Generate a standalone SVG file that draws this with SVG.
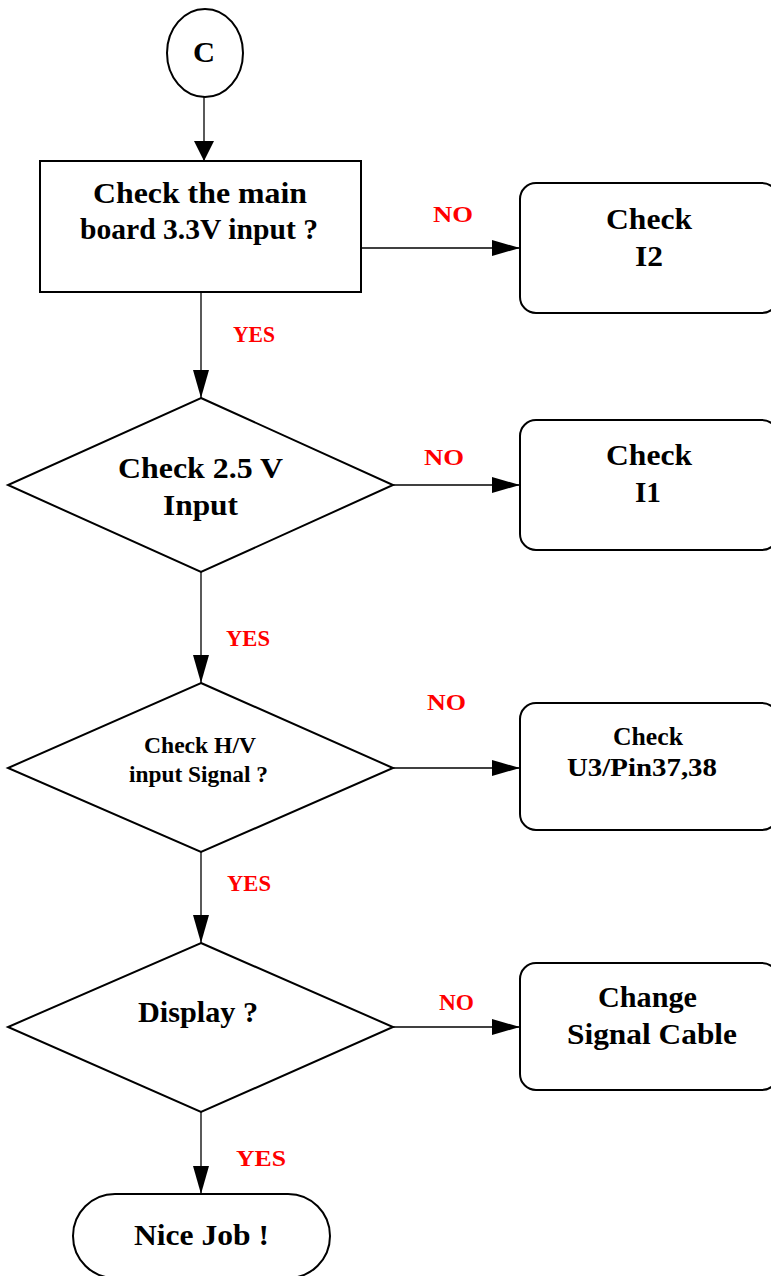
<svg xmlns="http://www.w3.org/2000/svg" width="771" height="1276" viewBox="0 0 771 1276">
<defs>
<style>
.shape{fill:#fff;stroke:#000;stroke-width:2}
.conn{fill:none;stroke:#000;stroke-width:1.3}
.t{font-family:"Liberation Serif","Times New Roman",serif;font-weight:bold;fill:#000}
.big{font-size:30px}
.mid{font-size:26px}
.lbl{font-family:"Liberation Serif","Times New Roman",serif;font-weight:bold;fill:#ff0000;font-size:24px}
</style>
<marker id="ah" markerUnits="userSpaceOnUse" markerWidth="30" markerHeight="16" refX="28" refY="8" orient="auto">
<path d="M0,0 L28,8 L0,16 Z" fill="#000"/>
</marker>
<marker id="ah2" markerUnits="userSpaceOnUse" markerWidth="22" markerHeight="20" refX="20" refY="10" orient="auto">
<path d="M0,0 L20,10 L0,20 Z" fill="#000"/>
</marker>
</defs>
<rect width="771" height="1276" fill="#fff"/>
<g id="connectors">
<line class="conn" x1="204" y1="97" x2="204" y2="161" marker-end="url(#ah2)"/>
<line class="conn" x1="361" y1="248" x2="520" y2="248" marker-end="url(#ah)"/>
<line class="conn" x1="201" y1="293" x2="201" y2="398" marker-end="url(#ah)"/>
<line class="conn" x1="392" y1="485" x2="520" y2="485" marker-end="url(#ah)"/>
<line class="conn" x1="201" y1="572" x2="201" y2="683" marker-end="url(#ah)"/>
<line class="conn" x1="393" y1="768" x2="520" y2="768" marker-end="url(#ah)"/>
<line class="conn" x1="201" y1="852" x2="201" y2="943" marker-end="url(#ah)"/>
<line class="conn" x1="393" y1="1027" x2="520" y2="1027" marker-end="url(#ah)"/>
<line class="conn" x1="201" y1="1112" x2="201" y2="1194" marker-end="url(#ah)"/>
<text class="lbl" x="433" y="222" textLength="40" lengthAdjust="spacingAndGlyphs">NO</text>
<text class="lbl" x="233" y="342" textLength="42" lengthAdjust="spacingAndGlyphs">YES</text>
<text class="lbl" x="424" y="465" textLength="40" lengthAdjust="spacingAndGlyphs">NO</text>
<text class="lbl" x="226" y="646" textLength="44" lengthAdjust="spacingAndGlyphs">YES</text>
<text class="lbl" x="427" y="710" textLength="39" lengthAdjust="spacingAndGlyphs">NO</text>
<text class="lbl" x="227" y="891" textLength="44" lengthAdjust="spacingAndGlyphs">YES</text>
<text class="lbl" x="439" y="1010" textLength="35" lengthAdjust="spacingAndGlyphs">NO</text>
<text class="lbl" x="236" y="1166" textLength="50" lengthAdjust="spacingAndGlyphs">YES</text>
</g>
<g id="startC">
<ellipse class="shape" cx="205" cy="53" rx="38" ry="44"/>
<text class="t big" x="193" y="62" textLength="22" lengthAdjust="spacingAndGlyphs">C</text>
</g>
<g id="check33">
<rect class="shape" x="40" y="161" width="321" height="131"/>
<text class="t big" x="93" y="203" textLength="214" lengthAdjust="spacingAndGlyphs">Check the main</text>
<text class="t big" x="80" y="239" textLength="238" lengthAdjust="spacingAndGlyphs">board 3.3V input ?</text>
</g>
<g id="checkI2">
<rect class="shape" x="520" y="183" width="258" height="130" rx="16"/>
<text class="t big" x="606" y="229" textLength="86" lengthAdjust="spacingAndGlyphs">Check</text>
<text class="t big" x="635" y="266" textLength="28" lengthAdjust="spacingAndGlyphs">I2</text>
</g>
<g id="check25">
<polygon class="shape" points="201,398 393,485 201,572 8,485"/>
<text class="t big" x="118" y="478" textLength="165" lengthAdjust="spacingAndGlyphs">Check 2.5 V</text>
<text class="t big" x="163" y="515" textLength="75" lengthAdjust="spacingAndGlyphs">Input</text>
</g>
<g id="checkI1">
<rect class="shape" x="520" y="420" width="258" height="130" rx="16"/>
<text class="t big" x="606" y="465" textLength="86" lengthAdjust="spacingAndGlyphs">Check</text>
<text class="t big" x="635" y="502" textLength="26" lengthAdjust="spacingAndGlyphs">I1</text>
</g>
<g id="checkHV">
<polygon class="shape" points="201,683 393,768 201,852 8,768"/>
<text class="t" x="144" y="753" textLength="112" lengthAdjust="spacingAndGlyphs" font-size="24">Check H/V</text>
<text class="t" x="129" y="782" textLength="139" lengthAdjust="spacingAndGlyphs" font-size="24">input Signal ?</text>
</g>
<g id="checkU3">
<rect class="shape" x="520" y="703" width="258" height="127" rx="16"/>
<text class="t mid" x="613" y="745" textLength="70" lengthAdjust="spacingAndGlyphs">Check</text>
<text class="t mid" x="567" y="776" textLength="150" lengthAdjust="spacingAndGlyphs">U3/Pin37,38</text>
</g>
<g id="display">
<polygon class="shape" points="201,943 393,1027 201,1112 8,1027"/>
<text class="t big" x="138" y="1022" textLength="120" lengthAdjust="spacingAndGlyphs">Display ?</text>
</g>
<g id="changeCable">
<rect class="shape" x="520" y="963" width="258" height="127" rx="16"/>
<text class="t big" x="598" y="1007" textLength="99" lengthAdjust="spacingAndGlyphs">Change</text>
<text class="t big" x="567" y="1044" textLength="170" lengthAdjust="spacingAndGlyphs">Signal Cable</text>
</g>
<g id="niceJob">
<rect class="shape" x="73" y="1194" width="257" height="84" rx="42"/>
<text class="t big" x="134" y="1245" textLength="135" lengthAdjust="spacingAndGlyphs">Nice Job !</text>
</g>
</svg>
